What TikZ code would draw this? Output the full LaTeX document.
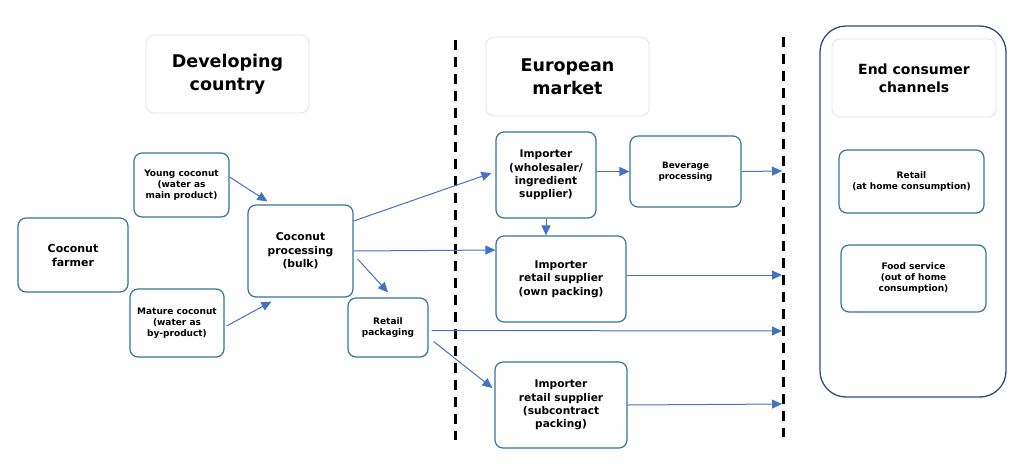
\documentclass[tikz,border=0pt]{standalone}
\usepackage{fontspec}
\setmainfont{DejaVu Sans}
\usetikzlibrary{arrows.meta}

\definecolor{boxblue}{HTML}{34759A}
\definecolor{arrowblue}{HTML}{4472C4}
\definecolor{frameblue}{HTML}{2F4B7C}
\definecolor{titlegray}{HTML}{E2E2E2}

\begin{document}
\begin{tikzpicture}[x=1pt, y=-1pt]
          \tikzstyle{stage}=[draw=boxblue, line width=1.2pt, rounded corners=8pt, align=center, inner sep=0pt, font=\bfseries]
          \tikzstyle{title}=[draw=titlegray, line width=0.8pt, rounded corners=8pt, align=center, inner sep=0pt, font=\fontsize{17.5}{23}\selectfont\bfseries]
          \tikzstyle{flow}=[draw=arrowblue, line width=1pt, -{Triangle[length=10pt, width=9pt]}]
          \tikzstyle{border}=[draw=black, line width=3pt, dash pattern=on 10pt off 7pt]

          \useasboundingbox (0, 0) rectangle (1024, 475);

          \node (channels) at (913, 211.5) [draw=frameblue, line width=1.3pt, rounded corners=26pt, minimum width=186pt, minimum height=371pt] {};

          \node (devtitle) at (227.5, 74) [title, minimum width=163pt, minimum height=78pt] {Developing\\country};
          \node (eurtitle) at (567.5, 76.5) [title, minimum width=163pt, minimum height=79pt] {European\\market};
          \node (endtitle) at (914, 78) [title, minimum width=164pt, minimum height=78pt, font=\fontsize{14}{18}\selectfont\bfseries] {End consumer\\channels};

          \draw [border] (455, 40) -- (455, 440);
          \draw [border] (783, 37) -- (783, 437);

          \node (farmer) at (73, 255) [stage, minimum width=110pt, minimum height=74pt, font=\fontsize{11}{14}\selectfont\bfseries] {Coconut\\farmer};
          \node (young) at (181.5, 185) [stage, minimum width=95pt, minimum height=64pt, font=\fontsize{9}{11.3}\selectfont\bfseries] {Young coconut\\(water as\\main product)};
          \node (mature) at (177, 323) [stage, minimum width=94pt, minimum height=68pt, font=\fontsize{9}{11.3}\selectfont\bfseries] {Mature coconut\\(water as\\by-product)};
          \node (proc) at (300.5, 251) [stage, minimum width=105pt, minimum height=92pt, font=\fontsize{10.7}{13.5}\selectfont\bfseries] {Coconut\\processing\\(bulk)};
          \node (pack) at (388, 327.5) [stage, minimum width=80pt, minimum height=59pt, font=\fontsize{9}{11.5}\selectfont\bfseries] {Retail\\packaging};

          \node (whole) at (546, 175) [stage, minimum width=100pt, minimum height=86pt, font=\fontsize{10.6}{13.3}\selectfont\bfseries] {Importer\\(wholesaler/\\ingredient\\supplier)};
          \node (bev) at (685.5, 171.5) [stage, minimum width=111pt, minimum height=71pt, font=\fontsize{8.8}{11}\selectfont\bfseries] {Beverage\\processing};
          \node (own) at (561, 279) [stage, minimum width=130pt, minimum height=86pt, font=\fontsize{10.6}{13.3}\selectfont\bfseries] {Importer\\retail supplier\\(own packing)};
          \node (sub) at (561, 405) [stage, minimum width=132pt, minimum height=86pt, font=\fontsize{10.6}{13.3}\selectfont\bfseries] {Importer\\retail supplier\\(subcontract\\packing)};

          \node (retail) at (911.5, 181.5) [stage, minimum width=145pt, minimum height=63pt, font=\fontsize{9}{11}\selectfont\bfseries] {Retail\\(at home consumption)};
          \node (food) at (913.5, 278.5) [stage, minimum width=145pt, minimum height=67pt, font=\fontsize{9}{11}\selectfont\bfseries] {Food service\\(out of home\\consumption)};

          \coordinate (bevout) at (782, 171);
          \coordinate (ownout) at (782, 275);
          \coordinate (packout) at (782, 331);
          \coordinate (subout) at (782, 404);

          \draw [flow] ([yshift=8pt]young.east) -- ([xshift=20pt, yshift=3pt]proc.north west);
          \draw [flow] ([xshift=2pt, yshift=-3pt]mature.east) -- ([xshift=24pt, yshift=-4pt]proc.south west);
          \draw [flow] ([yshift=30pt]proc.east) -- ([xshift=-4pt, yshift=2pt]whole.west);
          \draw [flow] (proc.east) -- ([yshift=29pt]own.west);
          \draw [flow] ([xshift=4pt, yshift=-8pt]proc.east) -- ([yshift=5pt]pack.north);
          \draw [flow] (whole.south) -- (whole.south |- own.north);
          \draw [flow] (whole.east |- bev.west) -- (bev.west);
          \draw [flow] (bev.east) -- (bevout);
          \draw [flow] ([yshift=4pt]own.east) -- (ownout);
          \draw [flow] ([xshift=3pt, yshift=-3pt]pack.east) -- (packout);
          \draw [flow] ([xshift=5pt, yshift=-14pt]pack.east) -- ([xshift=-2pt, yshift=17pt]sub.west);
          \draw [flow] (sub.east) -- (subout);
        \end{tikzpicture}
\end{document}
